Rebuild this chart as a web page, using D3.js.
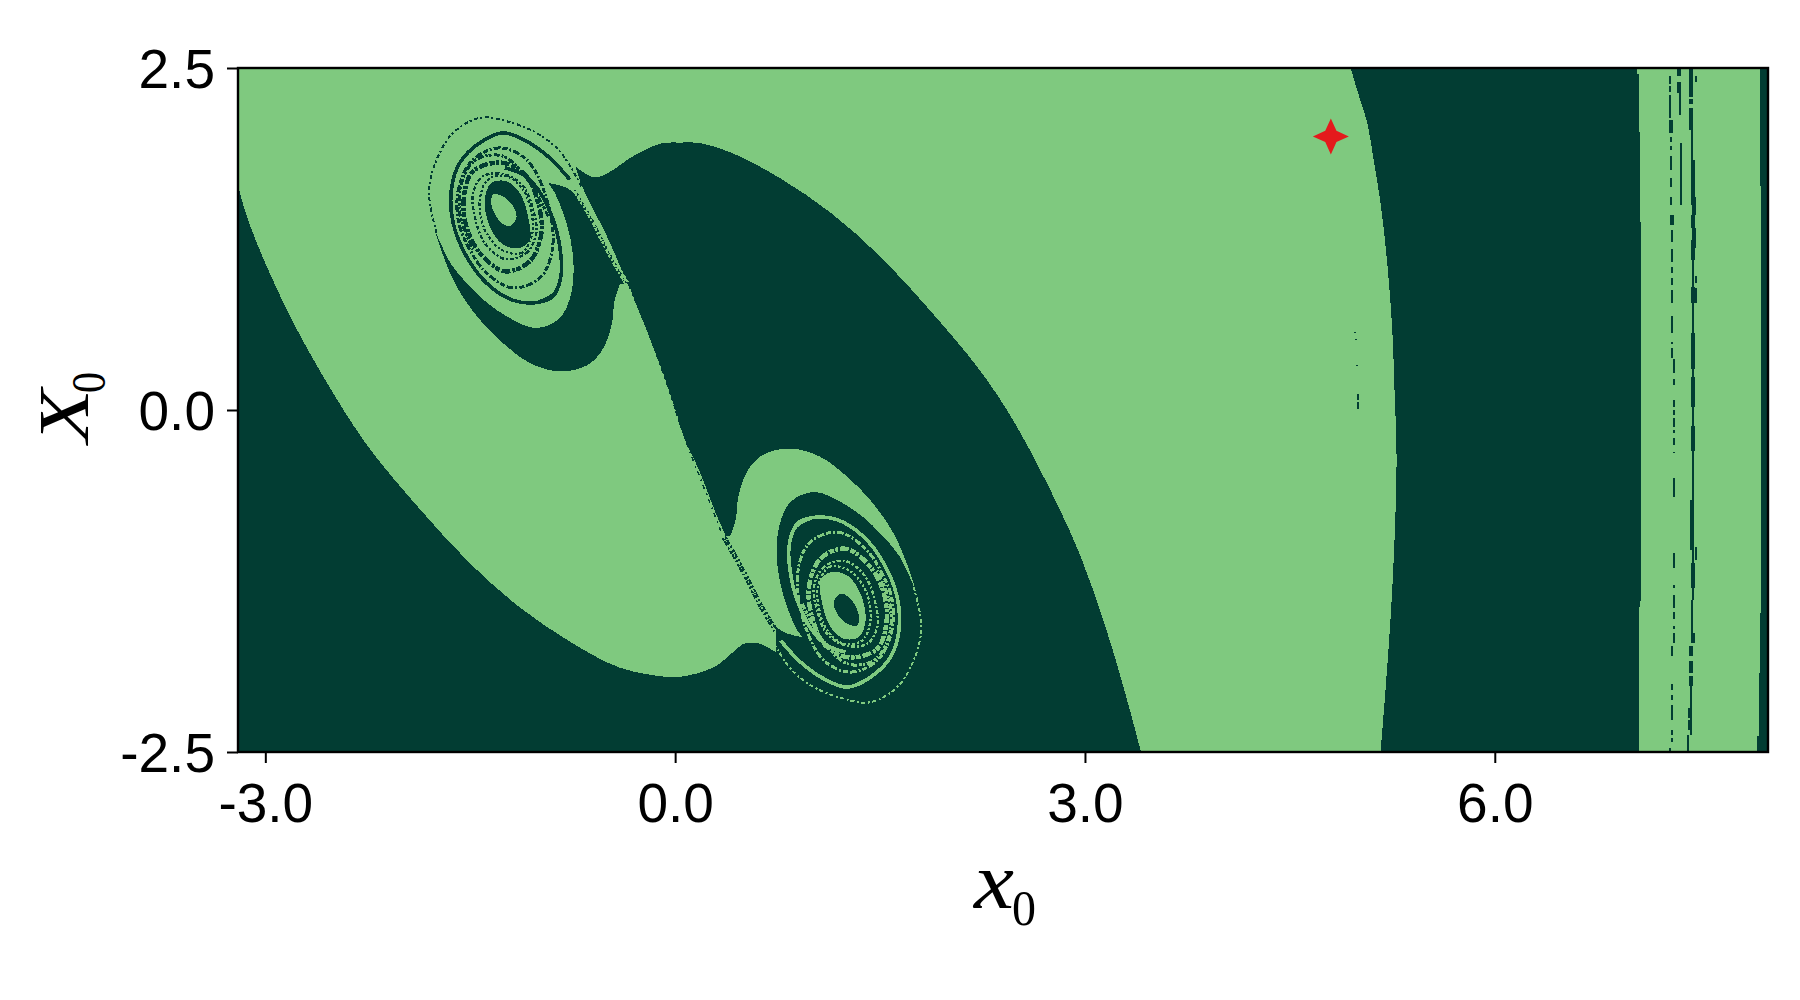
<!DOCTYPE html>
<html><head><meta charset="utf-8">
<script src="https://cdn.jsdelivr.net/npm/d3@7"></script>
<style>html,body{margin:0;padding:0;background:#fff}svg{display:block}</style>
</head><body><div id="chart"></div>
<script>
const xDomain=[-3.2,8], yDomain=[-2.5,2.5];
const xTicks=[-3,0,3,6], xTickLabels=["-3.0","0.0","3.0","6.0"];
const yTicks=[-2.5,0,2.5], yTickLabels=["-2.5","0.0","2.5"];
const starPoint=[4.8,2.0];
const lightColor="#7fc97f", darkColor="#023d33", starColor="#e41a1c";

// Central basin boundary, in (x0, X0), one smooth section at a time
const centralTopEdge=[[3.41,-2.5],[3.31,-2.126],[3.163,-1.626],[2.968,-1.069],[2.724,-.54],[2.48,-.085],[2.236,.283],[1.87,.723],[1.504,1.119],[1.138,1.442],[.772,1.692],[.406,1.883],[.186,1.95],[.04,1.955],[-.107,1.947],[-.30,1.86],[-.497,1.73],[-.595,1.70],[-.73,1.78]];
const centralDiagonal=[[-.73,1.78],[-.668,1.606],[-.497,1.265],[-.35,.925],[-.18,.51],[-.058,.168],[.064,-.197],[.186,-.465],[.308,-.78],[.455,-1.10],[.625,-1.416],[.735,-1.61],[.735,-1.77]];
const centralLowerEdge=[[.735,-1.77],[.625,-1.71],[.55,-1.70],[.50,-1.71],[.284,-1.88],[.04,-1.95],[-.07,-1.95],[-.406,-1.883],[-.772,-1.692],[-1.138,-1.442],[-1.504,-1.119],[-1.87,-.723],[-2.236,-.283],[-2.48,.085],[-2.766,.583],[-2.968,1.0],[-3.13,1.4],[-3.2,1.64]];
const centralCorners=[[-3.2,-2.5],[3.41,-2.5]];

const rightArc=[[4.945,2.5],[4.993,2.337],[5.067,2.096],[5.11,1.847],[5.164,1.511],[5.213,1.072],[5.25,.583],[5.266,.144],[5.281,-.36],[5.255,-1.2],[5.213,-1.873],[5.164,-2.5]];
const rightEdge=[[7.053,-2.5],[7.053,-1.979],[7.06,-1.394],[7.067,-1.394],[7.067,1.372],[7.06,1.372],[7.06,2.03],[7.053,2.03],[7.053,2.455],[7.038,2.455],[7.038,2.5]];
const edgeBasin=[[7.939,2.5],[7.939,1.637],[7.946,1.637],[7.946,-1.486],[7.939,-1.486],[7.939,-1.92],[7.931,-1.92],[7.931,-2.38],[7.916,-2.38],[7.916,-2.5],[8,-2.5],[8,2.5]];

// Lower spiral (light marks on dark)
const lowerLobeOuter=[[.406,-.916],[.442,-.807],[.467,-.611],[.54,-.428],[.65,-.324],[.845,-.282],[1.064,-.343],[1.26,-.489],[1.43,-.66],[1.60,-.904],[1.723,-1.197],[1.76,-1.319]];
const lowerLobeInner=[[1.76,-1.319],[1.638,-1.063],[1.503,-.904],[1.381,-.787],[1.211,-.672],[1.016,-.599],[.845,-.672],[.76,-.855],[.747,-1.124],[.796,-1.367],[.881,-1.587],[.93,-1.66]];
const lowerLobeSeam=[[.93,-1.66],[.772,-1.611],[.625,-1.428],[.455,-1.10],[.357,-.928]];
const lowerOuterDots=[[1.747,-1.294],[1.796,-1.514],[1.796,-1.66],[1.735,-1.855],[1.625,-2.026],[1.43,-2.136],[1.235,-2.111],[1.016,-2.026],[.845,-1.892],[.686,-1.636]];
const lowerBand=[[.857,-.904],[.894,-.831],[1.003,-.787],[1.186,-.802],[1.381,-.928],[1.528,-1.124],[1.625,-1.368],[1.638,-1.611],[1.577,-1.806],[1.43,-1.953],[1.26,-2.026],[1.089,-1.965],[.918,-1.843],[.772,-1.685]];
const lowerArm=[[1.003,-.787],[.881,-.855],[.833,-1.002],[.845,-1.197],[.894,-1.392],[1.003,-1.611],[1.113,-1.721],[1.247,-1.77]];
const lowerRingA=[[.979,-1.294],[1.064,-1.087],[1.247,-1.014],[1.43,-1.148],[1.528,-1.343],[1.547,-1.55],[1.479,-1.746],[1.26,-1.807],[1.089,-1.709],[1.003,-1.514]];
const lowerRingB=[[1.016,-1.294],[1.089,-1.148],[1.247,-1.104],[1.394,-1.221],[1.467,-1.416],[1.479,-1.587],[1.406,-1.709],[1.247,-1.721],[1.113,-1.636],[1.04,-1.465]];
const lowerRingC=[[.894,-1.221],[.979,-.977],[1.186,-.892],[1.381,-1.002],[1.503,-1.172],[1.589,-1.392],[1.581,-1.636],[1.479,-1.831],[1.284,-1.916],[1.089,-1.831],[.955,-1.587]];
const lowerArcD=[[.93,-1.416],[1.064,-1.66],[1.26,-1.855],[1.455,-1.831],[1.564,-1.66],[1.572,-1.416],[1.479,-1.172]];
const lowerRingE=[[1.045,-1.294],[1.125,-1.148],[1.272,-1.172],[1.394,-1.319],[1.43,-1.538],[1.369,-1.685],[1.235,-1.709],[1.113,-1.611],[1.052,-1.441]];
const lowerCore=[[1.064,-1.246],[1.138,-1.185],[1.26,-1.209],[1.357,-1.343],[1.394,-1.538],[1.345,-1.66],[1.235,-1.672],[1.138,-1.587],[1.077,-1.416]];
const lowerEye=[[1.162,-1.404],[1.211,-1.343],[1.284,-1.38],[1.345,-1.502],[1.333,-1.575],[1.26,-1.563],[1.186,-1.489]];

// Upper spiral (dark marks on light)
const upperLobeOuter=[[-.406,.916],[-.442,.807],[-.467,.611],[-.54,.428],[-.65,.324],[-.845,.282],[-1.064,.343],[-1.26,.489],[-1.43,.66],[-1.60,.904],[-1.723,1.197],[-1.76,1.319]];
const upperLobeInner=[[-1.76,1.319],[-1.638,1.063],[-1.503,.904],[-1.381,.787],[-1.211,.672],[-1.016,.599],[-.845,.672],[-.76,.855],[-.747,1.124],[-.796,1.367],[-.881,1.587],[-.93,1.66]];
const upperLobeSeam=[[-.93,1.66],[-.772,1.611],[-.625,1.428],[-.455,1.10],[-.357,.928]];
const upperOuterDots=[[-1.747,1.294],[-1.796,1.514],[-1.796,1.66],[-1.735,1.855],[-1.625,2.026],[-1.43,2.136],[-1.235,2.111],[-1.016,2.026],[-.845,1.892],[-.686,1.636]];
const upperBand=[[-.857,.904],[-.894,.831],[-1.003,.787],[-1.186,.802],[-1.381,.928],[-1.528,1.124],[-1.625,1.368],[-1.638,1.611],[-1.577,1.806],[-1.43,1.953],[-1.26,2.026],[-1.089,1.965],[-.918,1.843],[-.772,1.685]];
const upperArm=[[-1.003,.787],[-.881,.855],[-.833,1.002],[-.845,1.197],[-.894,1.392],[-1.003,1.611],[-1.113,1.721],[-1.247,1.77]];
const upperRingA=[[-.979,1.294],[-1.064,1.087],[-1.247,1.014],[-1.43,1.148],[-1.528,1.343],[-1.547,1.55],[-1.479,1.746],[-1.26,1.807],[-1.089,1.709],[-1.003,1.514]];
const upperRingB=[[-1.016,1.294],[-1.089,1.148],[-1.247,1.104],[-1.394,1.221],[-1.467,1.416],[-1.479,1.587],[-1.406,1.709],[-1.247,1.721],[-1.113,1.636],[-1.04,1.465]];
const upperRingC=[[-.894,1.221],[-.979,.977],[-1.186,.892],[-1.381,1.002],[-1.503,1.172],[-1.589,1.392],[-1.581,1.636],[-1.479,1.831],[-1.284,1.916],[-1.089,1.831],[-.955,1.587]];
const upperArcD=[[-.93,1.416],[-1.064,1.66],[-1.26,1.855],[-1.455,1.831],[-1.564,1.66],[-1.572,1.416],[-1.479,1.172]];
const upperRingE=[[-1.045,1.294],[-1.125,1.148],[-1.272,1.172],[-1.394,1.319],[-1.43,1.538],[-1.369,1.685],[-1.235,1.709],[-1.113,1.611],[-1.052,1.441]];
const upperCore=[[-1.064,1.246],[-1.138,1.185],[-1.26,1.209],[-1.357,1.343],[-1.394,1.538],[-1.345,1.66],[-1.235,1.672],[-1.138,1.587],[-1.077,1.416]];
const upperEye=[[-1.162,1.404],[-1.211,1.343],[-1.284,1.38],[-1.345,1.502],[-1.333,1.575],[-1.26,1.563],[-1.186,1.489]];

// Fractal seam along the diagonal
const seamLowerWide=[[.357,-.93],[.455,-1.10],[.54,-1.26],[.625,-1.428],[.735,-1.61]];
const seamLowerThin=[[-.02,.07],[.095,-.27],[.22,-.59],[.34,-.9]];
const seamUpperWide=[[-.357,.93],[-.455,1.10],[-.54,1.26],[-.625,1.428],[-.735,1.61]];
const seamUpperThin=[[.02,-.07],[-.095,.27],[-.22,.59],[-.34,.9]];

// Vertical slivers: [x0, X0 top, X0 bottom]
const thickSlivers=[[7.433,2.5,2.286],[7.433,2.271,2.235],[7.433,2.205,2.045],[7.453,1.825,1.716],[7.453,1.716,1.496],[7.46,1.555,1.423],[7.453,1.423,1.328],[7.46,1.328,1.182],
[7.45,1.24,1.10],[7.452,.90,.78],[7.452,.56,.30],[7.45,.24,.02],[7.448,-.12,-.30],[7.444,-.66,-.82],[7.444,-.80,-1.02],[7.448,-1.12,-1.30],[7.453,-1.627,-1.70],[7.433,-1.722,-1.795],[7.433,-1.832,-1.92],[7.433,-1.943,-2.015],[7.426,-2.18,-2.254],[7.426,-2.268,-2.34],
[7.345,2.5,2.44],[7.345,2.40,2.32],[7.287,2.12,2.023],[7.30,1.423,1.35]];
const thinSlivers=[[7.452,1.182,-1.391],[7.444,2.045,1.825],[7.444,-1.391,-1.627],[7.418,-2.378,-2.5],[7.433,-2.015,-2.378],
[7.353,2.32,2.16],[7.36,1.95,1.50],
[7.281,2.44,2.38],[7.281,2.366,2.322],[7.281,2.30,2.132],[7.287,1.993,1.957],[7.287,1.928,1.898],[7.287,1.855,1.752],[7.287,1.694,1.628],[7.287,1.555,1.496],
[7.30,1.313,1.226],[7.30,1.175,1.08],[7.30,1.043,.999],[7.30,.963,.911],[7.30,.875,.78],[7.30,.685,.56],[7.30,.495,.48],[7.30,.451,.378],[7.31,.37,.268],[7.31,.224,.18],[7.31,.071,.02],[7.31,-.002,-.039],[7.31,-.061,-.127],[7.31,-.148,-.17],[7.31,-.207,-.258],[7.31,-.31,-.316],[7.31,-.50,-.638],[7.31,-1.048,-1.157],[7.31,-1.276,-1.298],[7.31,-1.355,-1.45],
[7.31,-1.48,-1.525],[7.31,-1.576,-1.598],[7.31,-1.627,-1.70],[7.30,-1.722,-1.795],[7.30,-2.0,-2.05],[7.294,-2.086,-2.122],[7.294,-2.16,-2.268],[7.294,-2.34,-2.378],[7.294,-2.40,-2.43],[7.281,-2.473,-2.5],
[7.475,.98,.93],[7.475,.89,.78],[7.475,2.44,2.40],[7.475,-1.0,-1.1],
[4.974,.57,.565],[4.983,.52,.51],[4.99,.33,.32],[5.0,.115,.07],[5.0,.055,.005]];

const margin={left:238,top:68,right:1768,bottom:752};
const x=d3.scaleLinear().domain(xDomain).range([margin.left,margin.right]);
const y=d3.scaleLinear().domain(yDomain).range([margin.bottom,margin.top]);
const svg=d3.select("#chart").append("svg").attr("width",1800).attr("height",1000);
const clip=svg.append("defs").append("clipPath").attr("id","plot");
clip.append("rect").attr("x",margin.left).attr("y",margin.top).attr("width",margin.right-margin.left).attr("height",margin.bottom-margin.top);
const plot=svg.append("g").attr("clip-path","url(#plot)").attr("shape-rendering","crispEdges");
plot.append("rect").attr("x",margin.left).attr("y",margin.top).attr("width",margin.right-margin.left).attr("height",margin.bottom-margin.top).attr("fill",lightColor);

const sharp=d3.line().x(d=>x(d[0])).y(d=>y(d[1]));
const smooth=d3.line().x(d=>x(d[0])).y(d=>y(d[1])).curve(d3.curveCatmullRom.alpha(.5));
const smoothClosed=d3.line().x(d=>x(d[0])).y(d=>y(d[1])).curve(d3.curveCatmullRomClosed.alpha(.5));
const joined=(...sections)=>sections.map(([pts,gen],i)=>{const s=gen(pts);return i?"L"+s.slice(1):s;}).join("")+"Z";
const fillPath=(d,color)=>plot.append("path").attr("d",d).attr("fill",color);
const strokeShape=(pts,color,w,dash,gen=smooth)=>plot.append("path").attr("d",gen(pts)).attr("fill","none").attr("stroke",color).attr("stroke-width",w).attr("stroke-dasharray",dash||null);

fillPath(joined([centralTopEdge,smooth],[centralDiagonal,smooth],[centralLowerEdge,smooth],[centralCorners,sharp]),darkColor);
fillPath(joined([rightArc,smooth],[rightEdge,sharp]),darkColor);
fillPath(sharp(edgeBasin)+"Z",darkColor);

function spiral(outer,inner,seam,dots,band,arm,ringA,ringB,ringC,arcD,ringE,core,eye,mark,ground){
  fillPath(joined([outer,smooth],[inner,smooth],[seam,smooth]),mark);
  strokeShape(dots,mark,2,"4 2 2 3");
  strokeShape(band,mark,3.6);
  strokeShape(arm,mark,3.6);
  strokeShape(arcD,mark,3,"6 2 3 1 2 2");
  strokeShape(ringC,mark,3,"5 2 2 2 7 2",smoothClosed);
  strokeShape(ringA,mark,4.4,"9 2 5 1 3 2",smoothClosed);
  strokeShape(ringB,mark,2.4,"2 2 4 2",smoothClosed);
  strokeShape(ringE,mark,2.2,"3 2 2 2",smoothClosed);
  fillPath(smoothClosed(core),mark);
  fillPath(smoothClosed(eye),ground);
}
spiral(lowerLobeOuter,lowerLobeInner,lowerLobeSeam,lowerOuterDots,lowerBand,lowerArm,lowerRingA,lowerRingB,lowerRingC,lowerArcD,lowerRingE,lowerCore,lowerEye,lightColor,darkColor);
spiral(upperLobeOuter,upperLobeInner,upperLobeSeam,upperOuterDots,upperBand,upperArm,upperRingA,upperRingB,upperRingC,upperArcD,upperRingE,upperCore,upperEye,darkColor,lightColor);

strokeShape(seamLowerWide,darkColor,5,"3 1 5 2 2 2");
strokeShape(seamLowerWide,lightColor,1.4,"2 3 1 4");
strokeShape(seamLowerThin,darkColor,1.6,"4 5 2 4");
strokeShape(seamUpperWide,lightColor,5,"3 1 5 2 2 2");
strokeShape(seamUpperWide,darkColor,1.4,"2 3 1 4");
strokeShape(seamUpperThin,lightColor,1.6,"4 5 2 4");

const drawSlivers=(rows,w)=>plot.append("g").selectAll("rect").data(rows).join("rect")
  .attr("x",d=>Math.round(x(d[0])-w/2)).attr("width",w)
  .attr("y",d=>y(d[1])).attr("height",d=>Math.max(1,y(d[2])-y(d[1]))).attr("fill",darkColor);
drawSlivers(thinSlivers,2);
drawSlivers(thickSlivers,4);

const starShape={draw(ctx,size){
  const outer=Math.sqrt(size), inner=outer*.44;
  for(let i=0;i<8;i++){
    const r=i%2?inner:outer, a=i*Math.PI/4;
    const px=r*Math.sin(a), py=-r*Math.cos(a);
    i?ctx.lineTo(px,py):ctx.moveTo(px,py);
  }
  ctx.closePath();
}};
svg.append("path").attr("d",d3.symbol().type(starShape).size(324)())
  .attr("transform",`translate(${x(starPoint[0])},${y(starPoint[1])})`).attr("fill",starColor);

const axisFont="'Liberation Sans',Arial,Helvetica,sans-serif";
const xAxis=d3.axisBottom(x).tickValues(xTicks).tickFormat((d,i)=>xTickLabels[i]).tickSize(11).tickSizeOuter(0);
const yAxis=d3.axisLeft(y).tickValues(yTicks).tickFormat((d,i)=>yTickLabels[i]).tickSize(11).tickSizeOuter(0);
const gx=svg.append("g").attr("transform",`translate(0,${margin.bottom})`).call(xAxis);
const gy=svg.append("g").attr("transform",`translate(${margin.left},0)`).call(yAxis);
for(const g of [gx,gy]){
  g.select(".domain").remove();
  g.selectAll("line").attr("stroke","#000").attr("stroke-width",2);
  g.selectAll("text").attr("font-family",axisFont).attr("font-size",55).attr("fill","#000");
}
gx.selectAll("text").attr("y",0).attr("dy",0).attr("transform","translate(0,70)");
gy.selectAll("text").attr("x",-23).attr("dy",19);
svg.append("rect").attr("x",margin.left).attr("y",margin.top).attr("width",margin.right-margin.left).attr("height",margin.bottom-margin.top)
  .attr("fill","none").attr("stroke","#000").attr("stroke-width",2.4);

const mathFont="'Liberation Serif','Times New Roman',serif";
const xl=svg.append("g").attr("font-family",mathFont).attr("fill","#000");
xl.append("text").attr("x",974).attr("y",908).attr("font-size",80).attr("font-style","italic").attr("textLength",40).attr("lengthAdjust","spacingAndGlyphs").text("x");
xl.append("text").attr("x",1012).attr("y",925).attr("font-size",50).attr("textLength",24).attr("lengthAdjust","spacingAndGlyphs").text("0");
const yl=svg.append("g").attr("font-family",mathFont).attr("fill","#000").attr("transform","translate(88,443) rotate(-90)");
yl.append("text").attr("x",0).attr("y",0).attr("font-size",72).attr("font-style","italic").attr("textLength",54).attr("lengthAdjust","spacingAndGlyphs").text("X");
yl.append("text").attr("x",50).attr("y",17).attr("font-size",48).attr("textLength",21).attr("lengthAdjust","spacingAndGlyphs").text("0");
</script></body></html>
